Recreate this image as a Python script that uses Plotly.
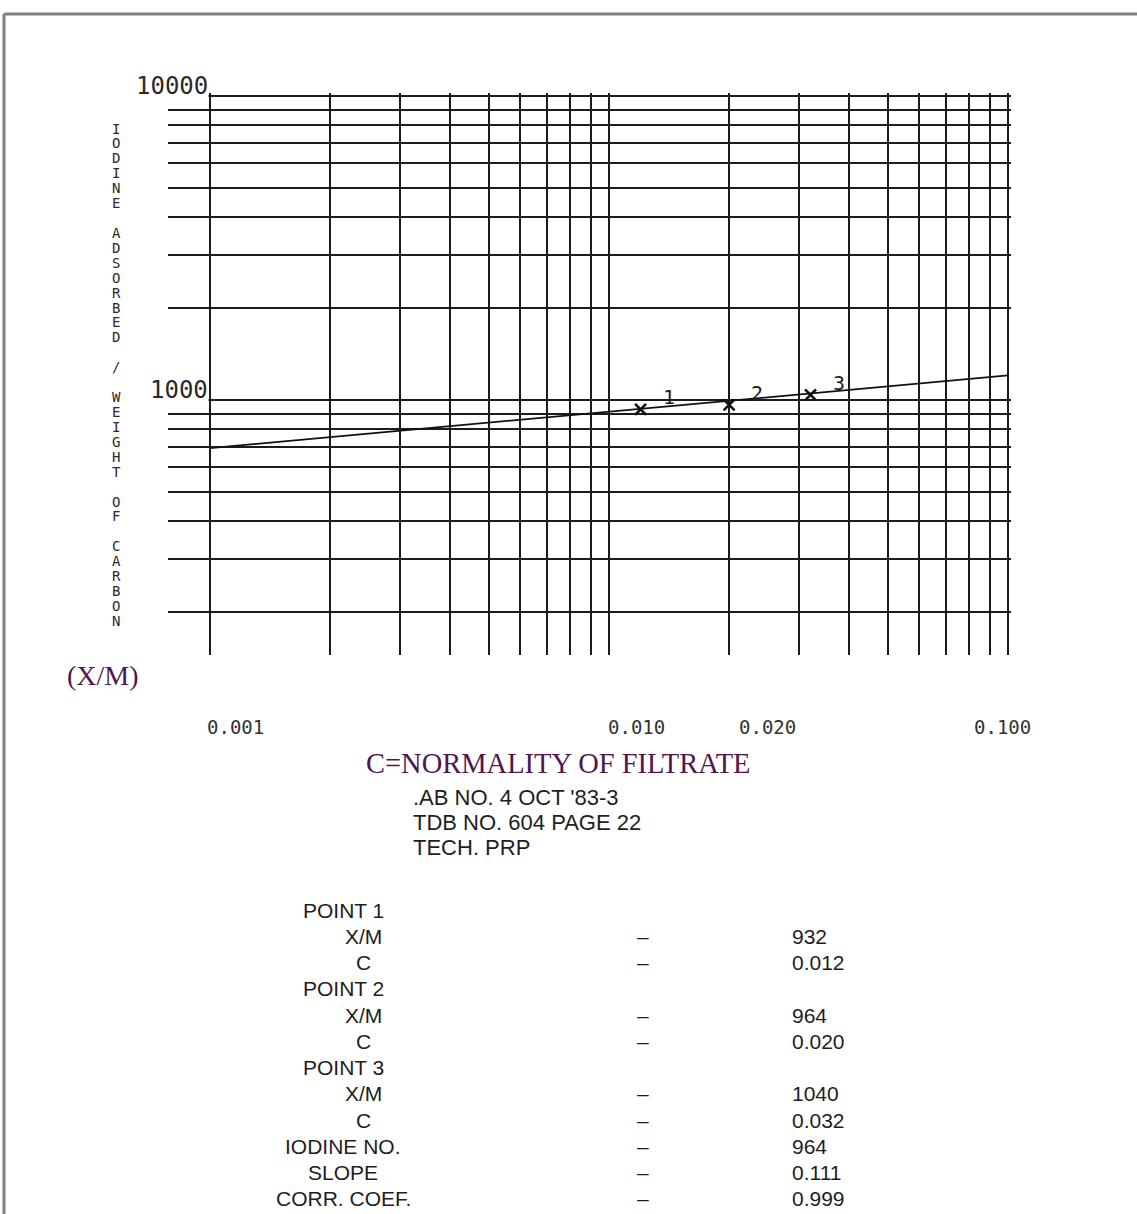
import math
import plotly.graph_objects as go

# ---------------- data ----------------
point_c = [0.012, 0.020, 0.032]
point_xm = [932, 964, 1040]
point_labels = ["1", "2", "3"]

fit_c = [0.001, 0.1]
fit_xm = [695, 1205]

x_grid = [0.001, 0.002, 0.003, 0.004, 0.005, 0.006, 0.007, 0.008, 0.009,
          0.01, 0.02, 0.03, 0.04, 0.05, 0.06, 0.07, 0.08, 0.09, 0.1]
y_grid = [200, 300, 400, 500, 600, 700, 800, 900,
          1000, 2000, 3000, 4000, 5000, 6000, 7000, 8000, 9000, 10000]

x_tick_vals = [0.001, 0.01, 0.02, 0.1]
x_tick_text = ["0.001", "0.010", "0.020", "0.100"]
y_tick_vals = [10000, 1000]
y_tick_text = ["10000", "1000"]

y_title = "IODINE ADSORBED / WEIGHT OF CARBON"
x_title = "C=NORMALITY OF FILTRATE"
y_unit = "(X/M)"

info_lines = [".AB NO. 4 OCT '83-3", "TDB NO. 604 PAGE 22", "TECH. PRP"]

table_labels = ["POINT 1", "X/M", "C", "POINT 2", "X/M", "C", "POINT 3", "X/M", "C",
                "IODINE NO.", "SLOPE", "CORR. COEF."]
table_values = ["", "932", "0.012", "", "964", "0.020", "", "1040", "0.032",
                "964", "0.111", "0.999"]

# ---------------- layout geometry (pixels) ----------------
W, H = 1137, 1214
L, R, T, B = 168, 1011, 93, 655          # plot area
X_LO_PX, X_HI_PX = 210, 1008             # pixel of 0.001 and 0.1
Y_HI_PX, Y_MID_PX = 96, 400              # pixel of 10000 and 1000
xdec = (X_HI_PX - X_LO_PX) / 2.0
ydec = float(Y_MID_PX - Y_HI_PX)
x_range = [-3 - (X_LO_PX - L) / xdec, -1 + (R - X_HI_PX) / xdec]
y_range = [3 - (B - Y_MID_PX) / ydec, 4 + (Y_HI_PX - T) / ydec]


def pxx(x):
    return (x - L) / (R - L)


def pxy(y):
    return (B - y) / (B - T)


MONO = "DejaVu Sans Mono"
SANS = "Liberation Sans, Arial, sans-serif"
SERIF = "Liberation Serif, Times New Roman, serif"
PURPLE = "#50164f"
INK = "#1e1e1e"

fig = go.Figure()

fig.add_trace(go.Scatter(
    x=fit_c, y=fit_xm, mode="lines",
    line=dict(color="#111111", width=1.7),
    showlegend=False, hoverinfo="skip"))

fig.add_trace(go.Scatter(
    x=point_c, y=point_xm, mode="markers",
    marker=dict(symbol="x-thin", size=11, line=dict(color="#111111", width=2.6)),
    showlegend=False))

annotations = []

# point labels
for c, v, t in zip(point_c, point_xm, point_labels):
    annotations.append(dict(x=math.log10(c), y=math.log10(v), xref="x", yref="y",
                            text=t, showarrow=False, xshift=28, yshift=12,
                            font=dict(family=MONO, size=20, color=INK)))

# y tick labels
for v, t in zip(y_tick_vals, y_tick_text):
    annotations.append(dict(x=math.log10(x_grid[0]), y=math.log10(v), xref="x", yref="y",
                            text=t, showarrow=False, xanchor="right", yanchor="bottom",
                            xshift=-1, yshift=-5, bgcolor="white", borderpad=0,
                            font=dict(family=MONO, size=24, color="#2a2a2a")))

# x tick labels
x_label_shift = [-5, -3, 8, -36]
for v, t, s in zip(x_tick_vals, x_tick_text, x_label_shift):
    annotations.append(dict(x=math.log10(v), y=pxy(727), xref="x", yref="paper",
                            text=t, showarrow=False, xanchor="left", yanchor="middle",
                            xshift=s, font=dict(family=MONO, size=19, color="#333333")))

# stacked vertical y title
for i, ch in enumerate(y_title):
    if ch == " ":
        continue
    annotations.append(dict(x=pxx(116), y=pxy(128.5 + i * 14.92), xref="paper", yref="paper",
                            text=ch, showarrow=False, xanchor="center", yanchor="middle",
                            font=dict(family=MONO, size=14, color="#2a2a2a")))

annotations.append(dict(x=pxx(103), y=pxy(675), xref="paper", yref="paper", text=y_unit,
                        showarrow=False, xanchor="center", yanchor="middle",
                        font=dict(family=SERIF, size=28, color=PURPLE)))
annotations.append(dict(x=pxx(558), y=pxy(764), xref="paper", yref="paper", text=x_title,
                        showarrow=False, xanchor="center", yanchor="middle",
                        font=dict(family=SERIF, size=28.5, color=PURPLE)))

for i, line in enumerate(info_lines):
    annotations.append(dict(x=pxx(411), y=pxy(797 + i * 25), xref="paper", yref="paper",
                            text=line, showarrow=False, xanchor="left", yanchor="middle",
                            font=dict(family=SANS, size=22, color=INK)))

for i, (lab, val) in enumerate(zip(table_labels, table_values)):
    yy = pxy(910 + i * 26.27)
    cx = 363 if lab in ("X/M", "C") else 343
    annotations.append(dict(x=pxx(cx), y=yy, xref="paper", yref="paper", text=lab,
                            showarrow=False, xanchor="center", yanchor="middle",
                            font=dict(family=SANS, size=21, color=INK)))
    if val:
        annotations.append(dict(x=pxx(643), y=yy, xref="paper", yref="paper", text="–",
                                showarrow=False, xanchor="center", yanchor="middle",
                                font=dict(family=SANS, size=21, color=INK)))
        annotations.append(dict(x=pxx(790), y=yy, xref="paper", yref="paper", text=val,
                                showarrow=False, xanchor="left", yanchor="middle",
                                font=dict(family=SANS, size=21, color=INK)))

shapes = [
    dict(type="line", xref="paper", yref="paper", x0=pxx(4), x1=pxx(W + 5),
         y0=pxy(14), y1=pxy(14), line=dict(color="#808080", width=3)),
    dict(type="line", xref="paper", yref="paper", x0=pxx(4), x1=pxx(4),
         y0=pxy(14), y1=pxy(H + 5), line=dict(color="#808080", width=3)),
]

fig.update_layout(
    width=W, height=H,
    margin=dict(l=L, r=W - R, t=T, b=H - B),
    paper_bgcolor="white", plot_bgcolor="white",
    showlegend=False,
    annotations=annotations,
    shapes=shapes,
    xaxis=dict(type="log", range=x_range, tickvals=x_grid, showticklabels=False,
               ticks="", showgrid=True, gridcolor="#1c1c1c", gridwidth=1.7,
               showline=False, zeroline=False, fixedrange=True),
    yaxis=dict(type="log", range=y_range, tickvals=y_grid, showticklabels=False,
               ticks="", showgrid=True, gridcolor="#1c1c1c", gridwidth=1.5,
               showline=False, zeroline=False, fixedrange=True),
)

fig.write_html(
    "out.html",
    config={"displayModeBar": False},
    post_script="document.body.style.margin='0';document.body.style.padding='0';"
                "document.body.style.overflow='hidden';",
)
